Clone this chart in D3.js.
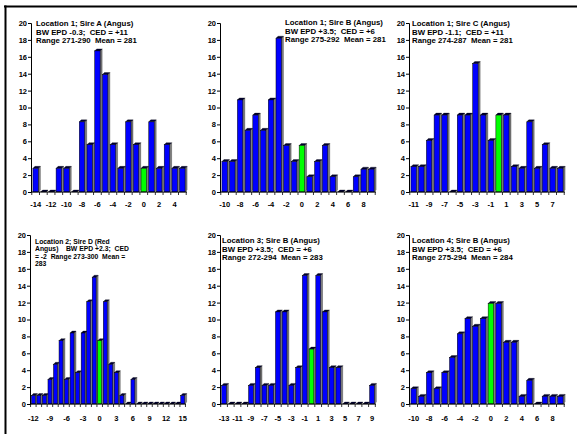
<html>
<head>
  <meta charset="utf-8">
  <script src="https://d3js.org/d3.v7.min.js"></script>
  <script>
    // categories (BW difference), percent of calves per category, tick labels, titles
    var cats1 = [-14,-13,-12,-11,-10,-9,-8,-7,-6,-5,-4,-3,-2,-1,0,1,2,3,4,5];
    var vals1 = [2.8,0,0,2.8,2.8,0,8.3,5.6,16.7,13.9,5.6,2.8,8.3,5.6,2.8,8.3,2.8,5.6,2.8,2.8];
    var ticks1 = [-14,-12,-10,-8,-6,-4,-2,0,2,4];
    var title1 = ["Location 1; Sire A (Angus)", "BW EPD -0.3;  CED = +11", "Range 271-290  Mean = 281"];

    var cats2 = [-10,-9,-8,-7,-6,-5,-4,-3,-2,-1,0,1,2,3,4,5,6,7,8,9];
    var vals2 = [3.6,3.6,10.9,7.3,9.1,7.3,10.9,18.2,5.5,3.6,5.5,1.8,3.6,5.5,1.8,0,0,1.8,2.7,2.7];
    var ticks2 = [-10,-8,-6,-4,-2,0,2,4,6,8];
    var title2 = ["Location 1; Sire B (Angus)", "BW EPD +3.5;  CED = +6", "Range 275-292  Mean = 281"];

    var cats3 = [-11,-10,-9,-8,-7,-6,-5,-4,-3,-2,-1,0,1,2,3,4,5,6,7,8];
    var vals3 = [3.0,3.0,6.1,9.1,9.1,0,9.1,9.1,15.2,9.1,6.1,9.1,9.1,3.0,2.8,8.3,2.8,5.6,2.8,2.8];
    var ticks3 = [-11,-9,-7,-5,-3,-1,1,3,5,7];
    var title3 = ["Location 1; Sire C (Angus)", "BW EPD -1.1;  CED = +11", "Range 274-287  Mean = 281"];

    var cats4 = [-12,-11,-10,-9,-8,-7,-6,-5,-4,-3,-2,-1,0,1,2,3,4,5,6,7,8,9,10,11,12,13,14,15];
    var vals4 = [1.0,1.0,1.0,2.9,4.7,7.5,2.9,8.4,3.7,8.4,12.1,15.0,7.5,12.1,4.7,3.7,1.0,0,2.9,0,0,0,0,0,0,0,0,1.0];
    var ticks4 = [-12,-9,-6,-3,0,3,6,9,12,15];
    var title4 = ["Location 2; Sire D (Red", "Angus)    BW EPD +2.3;  CED", "= -2  Range 273-300  Mean =", "283"];

    var cats5 = [-13,-12,-11,-10,-9,-8,-7,-6,-5,-4,-3,-2,-1,0,1,2,3,4,5,6,7,8,9];
    var vals5 = [2.2,0,0,0,2.2,4.3,2.2,2.2,10.9,10.9,2.2,4.3,15.2,6.5,15.2,10.9,4.3,4.3,0,0,0,0,2.2];
    var ticks5 = [-13,-11,-9,-7,-5,-3,-1,1,3,5,7,9];
    var title5 = ["Location 3; Sire B (Angus)", "BW EPD +3.5;  CED = +6", "Range 272-294  Mean = 283"];

    var cats6 = [-10,-9,-8,-7,-6,-5,-4,-3,-2,-1,0,1,2,3,4,5,6,7,8,9];
    var vals6 = [1.8,0.9,3.7,1.8,3.7,5.5,8.3,10.1,9.2,10.1,11.9,11.9,7.3,7.3,0.9,2.8,0,0.9,0.9,0.9];
    var ticks6 = [-10,-8,-6,-4,-2,0,2,4,6,8];
    var title6 = ["Location 4; Sire B (Angus)", "BW EPD +3.5;  CED = +6", "Range 275-294  Mean = 284"];

    var yTicks = [0,2,4,6,8,10,12,14,16,18,20];
    var highlight = 0;   // sire's own EPD bin drawn green

    function makeCharts() {
        var svg = d3.select("#ch");

        // frame: top and left rule only
        svg.append("line").attr("x1", 4).attr("x2", 577).attr("y1", 6.5).attr("y2", 6.5)
            .attr("stroke", "black").attr("stroke-width", 2);
        svg.append("line").attr("x1", 5.5).attr("x2", 5.5).attr("y1", 5.5).attr("y2", 434)
            .attr("stroke", "black").attr("stroke-width", 2);

        var panels = [
            {c: cats1, v: vals1, t: ticks1, title: title1, x: 31,  y: 23,  tx: 36,  ty: 23,  lh: 8.6, fs: 7.8, ld: 14.5},
            {c: cats2, v: vals2, t: ticks2, title: title2, x: 220, y: 23,  tx: 285, ty: 22,  lh: 8.6, fs: 7.8, ld: 14.5},
            {c: cats3, v: vals3, t: ticks3, title: title3, x: 409, y: 23,  tx: 412, ty: 23,  lh: 8.6, fs: 7.8, ld: 14.5},
            {c: cats4, v: vals4, t: ticks4, title: title4, x: 30,  y: 235, tx: 35,  ty: 241, lh: 7.4, fs: 6.8, ld: 16.5},
            {c: cats5, v: vals5, t: ticks5, title: title5, x: 220, y: 235, tx: 222, ty: 240, lh: 8.6, fs: 7.8, ld: 16.5},
            {c: cats6, v: vals6, t: ticks6, title: title6, x: 409, y: 235, tx: 412, ty: 240, lh: 8.6, fs: 7.8, ld: 16.5}
        ];
        var pw = 156, ph = 169, d = 2;

        panels.forEach(function(p) {
            var g = svg.append("g").attr("transform", "translate(" + p.x + "," + p.y + ")");
            var xs = d3.scaleBand().domain(p.c).range([0, pw]).paddingInner(0.3).paddingOuter(0.25);
            var ys = d3.scaleLinear().domain([0, 20]).range([ph, 0]);
            var bw = xs.bandwidth(), y0 = ys(0);
            var data = p.c.map(function(c, i) { return {c: c, v: p.v[i]}; });

            var bars = g.selectAll("g.bar").data(data).enter().append("g");
            // side face
            bars.append("polygon").attr("fill", "#808080").attr("stroke", "black").attr("stroke-width", 0.3)
                .attr("points", function(e) {
                    var x = xs(e.c) + bw, y = ys(e.v);
                    return [[x, y], [x + d, y - d], [x + d, y0 - d], [x, y0]].join(" ");
                });
            // top face
            bars.append("polygon").attr("fill", "#000033").attr("stroke", "black").attr("stroke-width", 0.3)
                .attr("points", function(e) {
                    var x = xs(e.c), y = ys(e.v);
                    return [[x, y], [x + d, y - d], [x + bw + d, y - d], [x + bw, y]].join(" ");
                });
            // front face
            bars.append("rect").attr("x", e => xs(e.c)).attr("width", bw)
                .attr("y", e => ys(e.v)).attr("height", e => y0 - ys(e.v))
                .attr("fill", e => e.c === highlight ? "#00ff00" : "#0000ff")
                .attr("stroke", "black").attr("stroke-width", 0.5);

            // y axis
            var ya = g.append("g").call(d3.axisLeft(ys).tickValues(yTicks).tickSize(3).tickPadding(1));
            ya.select(".domain").attr("stroke-width", 1);
            ya.selectAll("text").attr("font-family", "Liberation Sans, Arial").attr("font-weight", "bold")
                .attr("font-size", 7.5).attr("fill", "black");

            // x axis: line, boundary ticks, labels
            g.append("line").attr("x1", 0).attr("x2", pw).attr("y1", y0).attr("y2", y0)
                .attr("stroke", "black").attr("stroke-width", 1);
            var step = xs.step();
            var bnd = p.c.map(c => xs(c) + bw / 2 - step / 2).concat([xs(p.c[p.c.length - 1]) + bw / 2 + step / 2]);
            g.selectAll("line.xt").data(bnd).enter().append("line")
                .attr("x1", b => b).attr("x2", b => b).attr("y1", y0).attr("y2", y0 + 3)
                .attr("stroke", "black").attr("stroke-width", 0.8);
            g.selectAll("text.xl").data(p.t).enter().append("text")
                .attr("x", t => xs(t) + bw / 2).attr("y", y0 + p.ld)
                .attr("text-anchor", "middle").attr("font-family", "Liberation Sans, Arial")
                .attr("font-weight", "bold").attr("font-size", 7.5).text(t => t);

            // title block
            svg.selectAll(null).data(p.title).enter().append("text")
                .attr("x", p.tx).attr("y", (s, i) => p.ty + 3 + i * p.lh)
                .attr("font-family", "Liberation Sans, Arial").attr("font-weight", "bold")
                .attr("font-size", p.fs).style("white-space", "pre").text(s => s);
        });
    }
  </script>
</head>

<body onload="makeCharts()" style="margin:0">
    <svg id="ch" width="577" height="434" style="background:white;display:block"></svg>
</body>
</html>
